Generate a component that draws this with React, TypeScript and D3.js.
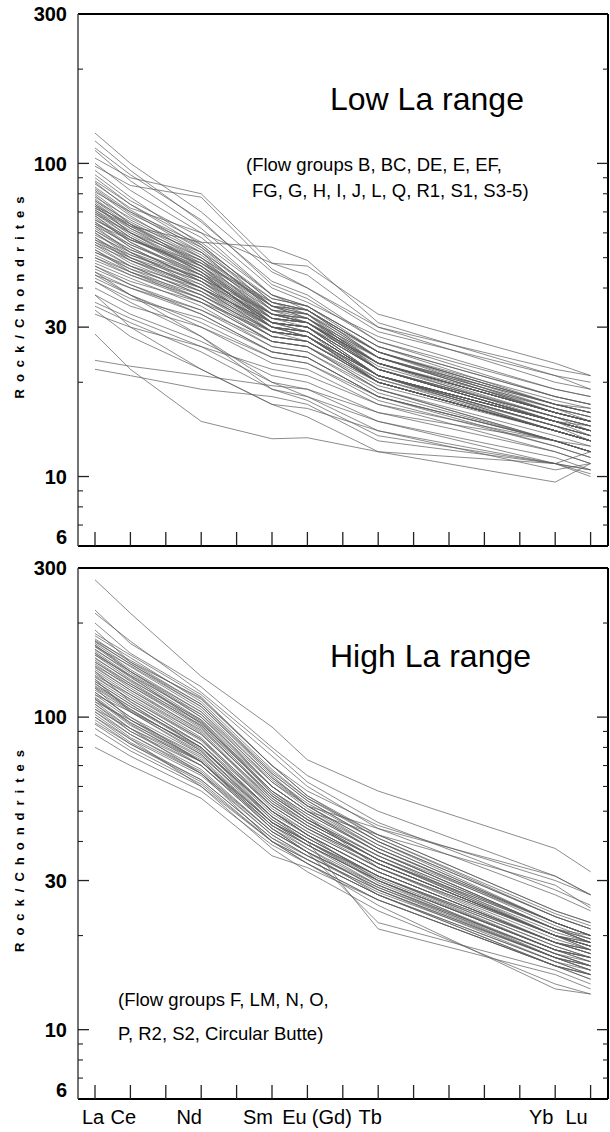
import * as d3 from "d3";

// REE order on the x axis (all 15 get a tick)
const elements = ["La", "Ce", "Pr", "Nd", "Pm", "Sm", "Eu", "Gd", "Tb", "Dy", "Ho", "Er", "Tm", "Yb", "Lu"];
// elements actually analysed (Gd interpolated)
const measured = ["La", "Ce", "Nd", "Sm", "Eu", "Tb", "Yb", "Lu"];

const xLabels = [
  { name: "La", at: "La", dx: -2 },
  { name: "Ce", at: "Ce", dx: -7 },
  { name: "Nd", at: "Nd", dx: -12 },
  { name: "Sm", at: "Sm", dx: -14 },
  { name: "Eu", at: "Eu", dx: -13 },
  { name: "(Gd)", at: "Gd", dx: -11 },
  { name: "Tb", at: "Tb", dx: -8 },
  { name: "Yb", at: "Yb", dx: -14 },
  { name: "Lu", at: "Lu", dx: -14 },
];

const yLabels = [300, 100, 30, 10, 6];
const majorTicks = [10, 30, 100];
const minorTicks = [7, 8, 9, 20, 40, 50, 60, 70, 80, 90, 200];

// La, Ce, Nd, Sm, Eu, Tb, Yb, Lu
const lowLa = [
  [125, 100, 70, 45, 40, 30, 20, 19],
  [118, 95, 65, 42, 38, 27, 18, 17],
  [110, 88, 62, 40, 36, 28, 19, 18],
  [104, 90, 80, 48, 44, 30, 22, 21],
  [98, 85, 78, 46, 40, 29, 21, 20],
  [95, 78, 55, 36, 33, 25, 17, 16],
  [92, 76, 58, 38, 35, 26, 17, 16.5],
  [88, 74, 56, 38, 34, 25, 16, 15],
  [86, 72, 60, 48, 47, 33, 23, 21],
  [84, 70, 52, 34, 31, 23, 15, 14],
  [82, 68, 50, 33, 31, 24, 16, 15],
  [80, 66, 51, 35, 33, 22, 15, 14],
  [78, 67, 52, 34, 32, 23, 16, 15],
  [77, 64, 49, 32, 30, 21, 14, 13],
  [76, 65, 50, 36, 34, 24, 16, 15],
  [75, 62, 47, 32, 31, 22, 15, 14.5],
  [74, 63, 48, 33, 31, 22, 15.5, 14],
  [73, 60, 46, 31, 30, 21, 14, 13],
  [72, 62, 49, 34, 33, 23, 16, 15],
  [71, 59, 45, 30, 29, 20, 14, 13],
  [70, 60, 47, 33, 32, 22, 15, 14],
  [69, 58, 44, 31, 30, 21, 15, 13.5],
  [68, 57, 46, 32, 31, 23, 16, 15],
  [67, 56, 43, 30, 28, 21, 14.5, 13],
  [66, 58, 45, 33, 31, 22, 15, 14],
  [65, 55, 44, 31, 30, 22, 15.5, 14.5],
  [64, 54, 42, 29, 28, 20, 14, 13],
  [63, 55, 45, 32, 31, 23, 16, 15],
  [62, 53, 43, 31, 29, 21, 14.5, 13.5],
  [61, 52, 41, 30, 29, 21, 15, 14],
  [60, 51, 42, 31, 30, 22, 15, 14],
  [59, 52, 43, 32, 31, 23, 16, 15],
  [58, 50, 40, 29, 28, 20, 14, 13],
  [57, 49, 41, 30, 29, 21, 15, 14],
  [56, 48, 39, 28, 27, 20, 14, 13],
  [55, 49, 40, 31, 30, 22, 15.5, 14.5],
  [54, 47, 38, 28, 27, 20, 14, 13],
  [53, 46, 39, 30, 29, 21, 15, 14],
  [52, 46, 37, 27, 26, 19, 13.5, 12.5],
  [51, 45, 38, 29, 28, 21, 15, 14],
  [50, 44, 36, 27, 26, 19, 13, 12],
  [49, 44, 37, 28, 27, 20, 14, 13],
  [48, 43, 35, 26, 25, 19, 13, 12],
  [47, 42, 36, 29, 28, 21, 15, 14],
  [46, 41, 34, 26, 25, 18.5, 13, 12],
  [45, 40, 33, 25, 24, 18, 12.5, 11.5],
  [44, 40, 34, 27, 26, 20, 14, 13],
  [43, 38, 30, 23, 22, 17, 12, 11],
  [42, 37, 32, 25, 24, 18, 13, 12],
  [40, 35, 30, 24, 23, 18, 13, 12],
  [38, 33, 27, 21, 20, 16, 12, 11],
  [36, 32, 26, 22, 21, 17, 13, 12],
  [35, 31, 25, 19, 18, 15, 11.5, 10.5],
  [33, 30, 26, 20, 19, 15, 11, 10],
  [34, 28, 22, 17, 16.5, 14, 11, 10.5],
  [28.5, 22, 15, 13.2, 13.3, 12, 11, 10.5],
  [23.5, 22.5, 21, 19.5, 19, 16, 13, 12.5],
  [22, 21, 19, 18, 17, 13, 11, 12],
  [38, 30, 22, 17, 15.5, 12, 9.6, 11],
  [45, 38, 28, 20, 18, 14, 10.5, 11],
  [42, 36, 28, 19, 17.5, 13.5, 11, 10.2],
  [72, 63, 56, 54, 49, 31, 21, 19],
  [79, 64, 47, 31, 29, 21, 15, 14],
  [74, 60, 45, 30, 28, 20, 14, 13],
  [68, 56, 44, 31, 30, 22, 15, 14],
  [63, 52, 40, 29, 27, 20, 14, 13],
  [58, 49, 39, 29, 28, 21, 14.5, 13.5],
  [53, 45, 36, 27, 26, 19.5, 14, 13],
  [81, 70, 55, 36, 34, 25, 17, 16],
  [71, 61, 48, 35, 34, 24, 16.5, 15.5],
  [66, 57, 47, 34, 33, 24, 17, 16],
  [61, 53, 44, 33, 32, 23, 16, 15],
  [56, 50, 42, 32, 31, 23, 16.5, 15.5],
  [90, 74, 54, 35, 32, 24, 16, 15],
  [100, 82, 60, 38, 35, 26, 18, 17],
  [112, 92, 66, 41, 37, 27, 19, 18],
  [87, 71, 53, 35, 32, 23, 15.5, 14.5],
  [83, 69, 54, 37, 35, 25, 16.5, 15.5],
  [76, 63, 50, 35, 33, 24, 16.5, 15],
  [70, 58, 46, 33, 31, 22.5, 15.5, 14.5],
  [65, 54, 42, 30, 29, 21, 14.5, 13.5],
  [60, 50, 40, 30, 28, 20.5, 14, 13],
  [55, 47, 38, 29, 28, 20, 14, 13],
  [50, 45, 37, 28, 27, 20.5, 14.5, 13.5],
  [47, 41, 33, 25, 24, 18, 13, 12],
  [44, 38, 31, 24, 23, 17.5, 12.5, 11.5],
  [64, 57, 48, 36, 34, 25, 17.5, 16.5],
  [73, 64, 52, 37, 35, 26, 18, 17],
  [57, 51, 43, 33, 32, 24, 17, 16],
  [52, 47, 40, 31, 30, 23, 16, 15],
  [69, 60, 49, 35, 34, 25, 17, 16],
];

const highLa = [
  [275, 215, 135, 93, 73, 58, 38, 32],
  [220, 172, 125, 80, 65, 50, 31, 27],
  [215, 175, 120, 78, 62, 46, 28, 25],
  [200, 160, 118, 75, 60, 44, 27, 24],
  [190, 150, 115, 70, 58, 45, 30, 27],
  [182, 155, 112, 68, 55, 42, 24, 22],
  [178, 150, 110, 66, 54, 40, 23, 21],
  [175, 148, 108, 65, 52, 39, 22, 20],
  [172, 145, 106, 64, 53, 40, 23, 21],
  [170, 142, 104, 62, 51, 38, 22, 20],
  [168, 140, 102, 60, 50, 37, 21, 19],
  [165, 138, 100, 60, 50, 38, 22, 20],
  [162, 136, 98, 58, 48, 36, 21, 19],
  [160, 134, 97, 57, 47, 36, 20, 18.5],
  [158, 132, 96, 58, 49, 37, 22, 20],
  [155, 130, 94, 56, 47, 35, 20, 19],
  [152, 128, 93, 55, 46, 35, 21, 19],
  [150, 126, 92, 56, 47, 36, 21, 20],
  [148, 124, 90, 54, 45, 34, 20, 18],
  [145, 122, 89, 53, 45, 34, 20, 18.5],
  [142, 120, 88, 54, 46, 35, 21, 19],
  [140, 118, 86, 52, 44, 33, 19, 18],
  [138, 116, 85, 51, 43, 33, 19.5, 18],
  [135, 114, 84, 52, 44, 34, 20, 19],
  [132, 112, 82, 50, 42, 32, 19, 17.5],
  [130, 110, 80, 49, 42, 32, 19, 18],
  [128, 108, 80, 50, 43, 33, 20, 18.5],
  [125, 106, 78, 48, 41, 31, 18.5, 17],
  [122, 104, 77, 48, 41, 31, 19, 17.5],
  [120, 100, 76, 47, 40, 31, 18, 17],
  [118, 98, 74, 46, 40, 30, 18, 17],
  [116, 96, 73, 46, 40, 31, 19, 17.5],
  [114, 94, 72, 45, 39, 30, 18, 16.5],
  [112, 92, 70, 44, 38, 29, 17.5, 16],
  [110, 90, 70, 45, 39, 30, 18, 17],
  [108, 90, 68, 43, 37, 28.5, 17, 16],
  [106, 88, 67, 43, 37, 29, 17.5, 16.5],
  [104, 86, 66, 42, 36, 28, 17, 15.5],
  [102, 85, 65, 42, 36, 28, 17, 16],
  [100, 83, 63, 41, 35, 27, 16.5, 15],
  [98, 82, 62, 40, 35, 27, 16, 15],
  [95, 80, 61, 40, 34, 26, 16, 15],
  [92, 78, 60, 40, 35, 27, 16.5, 15.5],
  [88, 75, 58, 39, 34, 26, 16, 14.5],
  [80, 70, 55, 36, 33, 26, 16, 15],
  [130, 110, 80, 48, 40, 21, 15, 13.5],
  [120, 100, 72, 44, 37, 22, 15.5, 14],
  [170, 140, 100, 62, 52, 44, 31, 27],
  [160, 135, 95, 60, 50, 42, 29, 24.5],
  [110, 92, 66, 40, 34, 25, 13.5, 13],
  [100, 85, 60, 38, 32, 24, 14, 13],
  [176, 152, 114, 70, 56, 41, 23, 21],
  [168, 146, 108, 66, 54, 40, 22, 20],
  [158, 136, 102, 63, 52, 38, 21.5, 19.5],
  [146, 126, 94, 58, 49, 37, 21, 19.5],
  [136, 118, 88, 55, 46, 35, 20.5, 19],
  [126, 108, 82, 52, 44, 34, 20, 18.5],
  [118, 104, 80, 50, 42, 32, 19, 18],
  [112, 98, 75, 48, 41, 31, 18.5, 17],
  [106, 92, 72, 46, 40, 30.5, 18, 17],
  [140, 112, 82, 50, 42, 30, 17, 15.5],
  [132, 104, 76, 46, 39, 29, 17, 16],
  [124, 98, 72, 45, 38, 28, 16.5, 15],
  [115, 95, 70, 44, 37, 27, 16, 14.5],
  [185, 158, 116, 70, 56, 42, 24, 22],
  [174, 148, 110, 67, 55, 41, 23.5, 21.5],
  [164, 140, 104, 64, 52, 39, 22, 20],
  [154, 131, 98, 60, 50, 37, 21, 19.5],
  [144, 122, 91, 56, 47, 35, 20, 18.5],
  [134, 114, 85, 53, 45, 34, 20, 18.5],
  [124, 105, 79, 50, 42, 32, 19, 17.5],
  [114, 96, 72, 46, 39, 30, 18, 16.5],
  [104, 88, 66, 43, 37, 28.5, 17.5, 16],
  [96, 82, 63, 41, 36, 27.5, 17, 15.5],
  [150, 128, 96, 57, 48, 33, 20, 18],
  [128, 106, 78, 47, 40, 29.5, 17.5, 16],
];

const W = 610;
const H = 1132;
const left = 78;
const right = 608;
const x = d3.scaleLinear().domain([0, elements.length - 1]).range([95, 590.6]);
const ex = (name: string) => x(elements.indexOf(name));

type PanelProps = {
  top: number;
  bottom: number;
  samples: number[][];
  title: string;
  titleX: number;
  titleY: number;
  notes: string[];
  noteX: number[];
  noteY: number[];
};

function Panel({ top, bottom, samples, title, titleX, titleY, notes, noteX, noteY }: PanelProps) {
  const y = d3.scaleLog().domain([6, 300]).range([bottom, top]);
  const line = d3
    .line<number>()
    .x((_, i) => ex(measured[i]))
    .y((d) => y(d));
  const mid = (top + bottom) / 2 + 14;

  return (
    <g>
      {samples.map((s, i) => (
        <path key={i} d={line(s) || ""} fill="none" stroke="#5a5a5a" strokeWidth={0.7} />
      ))}

      {/* frame */}
      <line x1={left} x2={right} y1={top} y2={top} stroke="#000" strokeWidth={2} />
      <line x1={right} x2={right} y1={top} y2={bottom} stroke="#000" strokeWidth={2} />
      <line x1={left} x2={right} y1={bottom} y2={bottom} stroke="#000" strokeWidth={2} />
      <line x1={left} x2={left} y1={top} y2={bottom} stroke="#444" strokeWidth={1.5} />

      {/* y ticks both sides */}
      {majorTicks.map((t) => (
        <g key={"M" + t}>
          <line x1={left} x2={left + 11} y1={y(t)} y2={y(t)} stroke="#222" strokeWidth={1.3} />
          <line x1={right - 11} x2={right} y1={y(t)} y2={y(t)} stroke="#222" strokeWidth={1.3} />
        </g>
      ))}
      {minorTicks.map((t) => (
        <g key={"m" + t}>
          <line x1={left} x2={left + 5} y1={y(t)} y2={y(t)} stroke="#222" strokeWidth={1.1} />
          <line x1={right - 5} x2={right} y1={y(t)} y2={y(t)} stroke="#222" strokeWidth={1.1} />
        </g>
      ))}
      {yLabels.map((t) => (
        <text
          key={"l" + t}
          x={67}
          y={y(t) - (t === 6 ? 9 : 0)}
          dy="0.36em"
          textAnchor="end"
          fontFamily="Liberation Sans, Arial, sans-serif"
          fontWeight="bold"
          fontSize={20}
        >
          {t}
        </text>
      ))}

      {/* x ticks */}
      {elements.map((e) => (
        <line key={e} x1={ex(e)} x2={ex(e)} y1={bottom} y2={bottom - 14} stroke="#222" strokeWidth={1.3} />
      ))}

      <text
        transform={`translate(24,${mid}) rotate(-90)`}
        textAnchor="middle"
        fontFamily="Liberation Sans, Arial, sans-serif"
        fontWeight="bold"
        fontSize={13}
        letterSpacing={7}
      >
        Rock/Chondrites
      </text>

      <text x={titleX} y={titleY} fontFamily="Liberation Sans, Arial, sans-serif" fontSize={32}>
        {title}
      </text>
      {notes.map((n, i) => (
        <text key={n} x={noteX[i]} y={noteY[i]} fontFamily="Liberation Sans, Arial, sans-serif" fontSize={18.5}>
          {n}
        </text>
      ))}
    </g>
  );
}

export default function App() {
  return (
    <svg width={W} height={H} style={{ position: "absolute", left: 0, top: 0, background: "#fff" }}>
      <rect width={W} height={H} fill="#fff" />
      <Panel
        top={14}
        bottom={546}
        samples={lowLa}
        title="Low La range"
        titleX={330}
        titleY={110}
        notes={["(Flow groups B, BC, DE, E, EF,", "FG, G, H, I, J, L, Q, R1, S1, S3-5)"]}
        noteX={[246, 252]}
        noteY={[171, 197]}
      />
      <Panel
        top={568}
        bottom={1099}
        samples={highLa}
        title="High La range"
        titleX={330}
        titleY={667}
        notes={["(Flow groups F, LM, N, O,", "P, R2, S2, Circular Butte)"]}
        noteX={[118, 118]}
        noteY={[1006, 1040]}
      />
      {xLabels.map((l) => (
        <text
          key={l.name}
          x={ex(l.at) + l.dx}
          y={1124}
          textAnchor="middle"
          fontFamily="Liberation Sans, Arial, sans-serif"
          fontSize={20}
        >
          {l.name}
        </text>
      ))}
    </svg>
  );
}
